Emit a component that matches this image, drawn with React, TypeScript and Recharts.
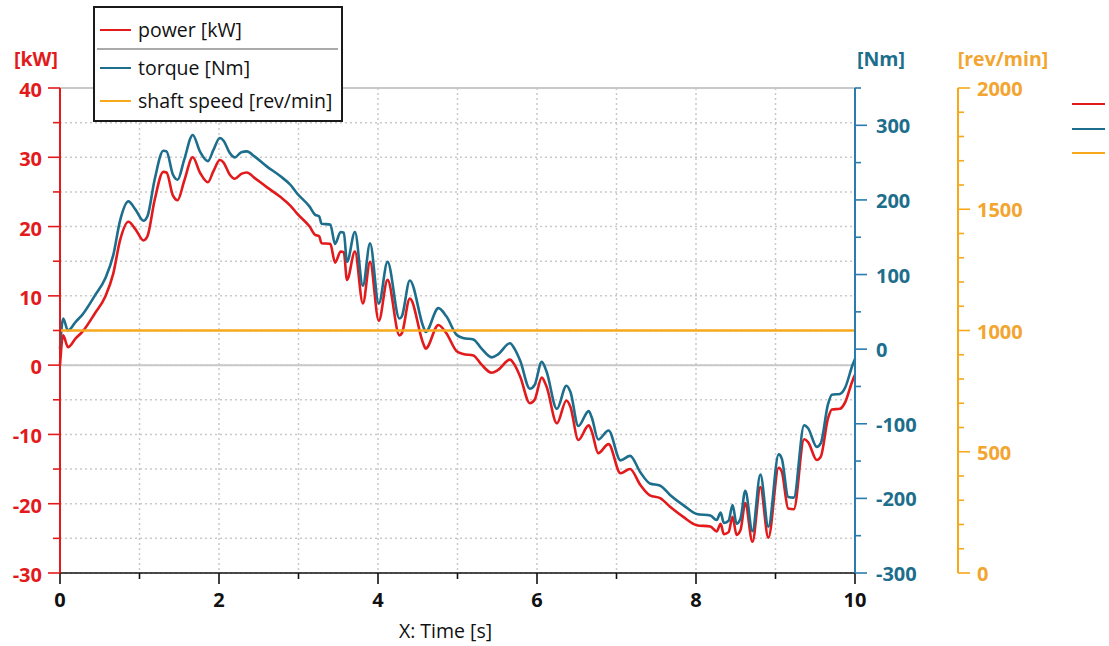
import React from 'react';
import {
  LineChart, Line, XAxis, YAxis, CartesianGrid, ReferenceLine, Legend,
} from 'recharts';

// ---- data ----
const TIME = [
  0, 0.04, 0.1, 0.2, 0.28, 0.44, 0.57, 0.67, 0.755, 0.86,
  0.95, 1.05, 1.1, 1.19, 1.3, 1.34, 1.42, 1.48, 1.56, 1.67,
  1.76, 1.86, 1.93, 2.01, 2.06, 2.13, 2.2, 2.28, 2.35, 2.45,
  2.6, 2.77, 2.9, 2.98, 3.14, 3.21, 3.26, 3.29, 3.4, 3.46,
  3.53, 3.57, 3.61, 3.71, 3.81, 3.9, 4.01, 4.12, 4.27, 4.3,
  4.4, 4.57, 4.6, 4.76, 4.86, 4.99, 5.07, 5.2, 5.3, 5.43,
  5.51, 5.66, 5.72, 5.79, 5.91, 5.97, 6.06, 6.12, 6.25, 6.37,
  6.42, 6.52, 6.65, 6.69, 6.77, 6.9, 7.05, 7.17, 7.3, 7.42,
  7.55, 7.67, 7.84, 8.01, 8.18, 8.26, 8.31, 8.35, 8.41, 8.46,
  8.51, 8.56, 8.62, 8.71, 8.81, 8.91, 9.04, 9.08, 9.16, 9.23,
  9.36, 9.41, 9.52, 9.57, 9.66, 9.71, 9.81, 9.87, 9.97, 10,
];

const POWER_KW = [
  0, 4.3, 2.6, 3.9, 4.8, 7.5, 9.9, 13.2, 18.0, 20.7,
  19.6, 18.0, 18.6, 23.8, 27.9, 27.8, 24.5, 23.8, 26.5, 30.0,
  27.8, 26.4, 28.0, 29.6, 29.2, 27.6, 26.9, 27.6, 27.8, 27.0,
  25.7, 24.3, 23.0, 21.9, 20.0, 18.8, 18.6, 17.6, 17.5, 14.8,
  16.4, 16.3, 12.3, 16.4, 8.9, 14.9, 6.4, 12.3, 4.3, 4.6,
  9.6, 3.1, 2.4, 5.8, 4.6, 2.0, 1.6, 1.4, 0.1, -1.1,
  -0.7, 0.8, 0.0, -1.7, -5.5, -5.0, -1.8, -3.1, -8.4, -5.1,
  -6.0, -10.8, -8.7, -9.6, -12.7, -11.4, -15.6, -15.0, -17.3, -18.8,
  -19.2, -20.4, -21.9, -23.1, -23.3, -24.0, -22.9, -24.4, -24.1, -21.9,
  -24.5, -23.8, -19.9, -25.5, -17.6, -24.9, -14.8, -15.4, -20.7, -20.8,
  -10.7, -11.1, -13.7, -13.2, -7.7, -6.4, -6.3, -5.5, -2.2, -1.4,
];

const TORQUE_NM = [
  0, 41, 25, 37, 46, 72, 95, 126, 172, 198,
  187, 172, 178, 227, 266, 265, 234, 227, 253, 287,
  265, 252, 267, 283, 279, 264, 257, 264, 265, 258,
  245, 232, 220, 209, 191, 180, 178, 168, 167, 141,
  157, 156, 117, 157, 85, 142, 61, 117, 41, 44,
  92, 30, 23, 55, 44, 19, 15, 13, 1, -11,
  -7, 8, 0, -16, -53, -48, -17, -30, -80, -49,
  -57, -103, -83, -92, -121, -109, -149, -143, -165, -180,
  -183, -195, -209, -221, -223, -229, -219, -233, -230, -209,
  -234, -227, -190, -244, -168, -238, -141, -147, -198, -199,
  -102, -106, -131, -126, -74, -61, -60, -53, -21, -13,
];

const SPEED_TIME = [0, 10];
const SPEED_RPM = [1000, 1000];

const X_TICKS = [0, 1, 2, 3, 4, 5, 6, 7, 8, 9, 10];
const KW_TICKS = [-30, -25, -20, -15, -10, -5, 0, 5, 10, 15, 20, 25, 30, 35, 40];
const NM_TICKS = [-300, -250, -200, -150, -100, -50, 0, 50, 100, 150, 200, 250, 300, 350];
const RPM_TICKS = [0, 100, 200, 300, 400, 500, 600, 700, 800, 900, 1000, 1100, 1200, 1300, 1400, 1500, 1600, 1700, 1800, 1900, 2000];

const SERIES_NAMES = ['power [kW]', 'torque [Nm]', 'shaft speed [rev/min]'];

// ---- styles ----
const RED = '#e31a1c';
const TEAL = '#1d6e8c';
const TEAL_AXIS = '#2a7bb0';
const ORANGE = '#f7a81b';
const ORANGE_TXT = '#f2a530';
const SERIES_COLORS = [RED, TEAL, ORANGE];
const FONT = '"Open Sans", "DejaVu Sans", sans-serif';

const mainData = TIME.map((t, i) => ({ t, power: POWER_KW[i], torque: TORQUE_NM[i] }));
const speedData = SPEED_TIME.map((t, i) => ({ t, speed: SPEED_RPM[i] }));

const LeftTick = (props: any) => {
  const { x, y, payload } = props;
  const v = payload.value;
  const major = v % 10 === 0;
  return (
    <g>
      <line x1={x - (major ? 12 : 7)} x2={x} y1={y} y2={y} stroke={RED} strokeWidth={1.6} />
      {major && (
        <text x={x - 18} y={y + 9} textAnchor="end" fill={RED} fontFamily={FONT} fontWeight={700} fontSize={20}>
          {v}
        </text>
      )}
    </g>
  );
};

const TorqueTick = (props: any) => {
  const { x, y, payload } = props;
  const v = payload.value;
  const major = v % 100 === 0;
  return (
    <g>
      <line x1={x} x2={x + (major ? 12 : 6)} y1={y} y2={y} stroke={TEAL_AXIS} strokeWidth={1.6} />
      {major && (
        <text x={x + 21} y={y + 8} textAnchor="start" fill={TEAL} fontFamily={FONT} fontWeight={700} fontSize={20}>
          {v}
        </text>
      )}
    </g>
  );
};

const SpeedTick = (props: any) => {
  const { x, y, payload } = props;
  const v = payload.value;
  const major = v % 500 === 0;
  return (
    <g>
      <line x1={x} x2={x + (major ? 12 : 6)} y1={y} y2={y} stroke={ORANGE} strokeWidth={1.6} />
      {major && (
        <text x={x + 19} y={y + 8} textAnchor="start" fill={ORANGE_TXT} fontFamily={FONT} fontWeight={700} fontSize={20}>
          {v}
        </text>
      )}
    </g>
  );
};

const BottomTick = (props: any) => {
  const { x, y, payload } = props;
  const v = payload.value;
  const major = v % 2 === 0;
  return (
    <g>
      <line x1={x} x2={x} y1={y} y2={y + (major ? 11 : 6)} stroke="#111" strokeWidth={1.6} />
      {major && (
        <text x={x} y={y + 34} textAnchor="middle" fill="#111" fontFamily={FONT} fontWeight={700} fontSize={20}>
          {v}
        </text>
      )}
    </g>
  );
};

const unitLabel = (text: string, color: string, dx: number) => (props: any) => {
  const vb = props.viewBox || {};
  return (
    <text x={vb.x + dx} y={vb.y - 22} textAnchor="middle" fill={color} fontFamily={FONT} fontWeight={700} fontSize={19.5}>
      {text}
    </text>
  );
};

const XLabel = (props: any) => {
  const vb = props.viewBox || {};
  return (
    <text x={vb.x + vb.width / 2 - 12} y={vb.y + 65} textAnchor="middle" fill="#111" fontFamily={FONT} fontSize={19.5}>
      X: Time [s]
    </text>
  );
};

const LegendContent = (props: any) => {
  const payload: any[] = props.payload || [];
  const colorFor = (name: string, i: number) => {
    const p = payload.find((e) => e.value === name);
    return (p && p.color) || SERIES_COLORS[i];
  };
  const rows = [
    { top: 29, name: SERIES_NAMES[0] },
    { top: 67, name: SERIES_NAMES[1] },
    { top: 100, name: SERIES_NAMES[2] },
  ];
  return (
    <div style={{ position: 'relative', width: 1109, height: 0 }}>
      <div
        style={{
          position: 'absolute', left: 93, top: 6, width: 246, height: 112,
          border: '2px solid #1a1a1a', background: '#fff', boxSizing: 'content-box',
        }}
      >
        {rows.map((r, i) => (
          <React.Fragment key={i}>
            <div style={{ position: 'absolute', left: 5, top: r.top - 8, width: 31, height: 0, borderTop: `2.5px solid ${colorFor(r.name, i)}` }} />
            <div style={{ position: 'absolute', left: 43, top: r.top - 20, fontFamily: FONT, fontSize: 19.5, lineHeight: '26px', color: '#111', whiteSpace: 'nowrap' }}>
              {r.name}
            </div>
          </React.Fragment>
        ))}
        <div style={{ position: 'absolute', left: 2, top: 40, width: 241, height: 0, borderTop: '2px solid #aaa' }} />
      </div>
      {[104, 129, 153].map((yy, i) => (
        <div key={i} style={{ position: 'absolute', left: 1072, top: yy - 1, width: 33, height: 0, borderTop: `2.5px solid ${colorFor(rows[i].name, i)}` }} />
      ))}
    </div>
  );
};

export default function App() {
  return (
    <div style={{ position: 'absolute', left: 0, top: 0, width: 1109, height: 646, background: '#fff' }}>
      <LineChart
        width={1109}
        height={646}
        data={mainData}
        margin={{ top: 88, right: 71, bottom: 33, left: 0 }}
      >
        <CartesianGrid
          yAxisId="kw"
          stroke="#c9c9c9"
          strokeWidth={1.5}
          strokeDasharray="2 3"
        />
        <XAxis
          dataKey="t"
          type="number"
          domain={[0, 10]}
          ticks={X_TICKS}
          interval={0}
          height={40}
          tickSize={0}
          tickMargin={0}
          tickLine={false}
          axisLine={{ stroke: '#111', strokeWidth: 1.6 }}
          tick={<BottomTick />}
          allowDecimals
          label={<XLabel />}
        />
        <YAxis
          yAxisId="kw"
          orientation="left"
          type="number"
          domain={[-30, 40]}
          ticks={KW_TICKS}
          interval={0}
          width={60}
          tickSize={0}
          tickMargin={0}
          tickLine={false}
          axisLine={{ stroke: RED, strokeWidth: 2 }}
          tick={<LeftTick />}
          label={unitLabel('[kW]', RED, 36)}
        />
        <YAxis
          yAxisId="nm"
          orientation="right"
          type="number"
          domain={[-300, 350]}
          ticks={NM_TICKS}
          interval={0}
          width={103}
          tickSize={0}
          tickMargin={0}
          tickLine={false}
          axisLine={{ stroke: TEAL_AXIS, strokeWidth: 2 }}
          tick={<TorqueTick />}
          label={unitLabel('[Nm]', TEAL, 26)}
        />
        <YAxis
          yAxisId="rpm"
          orientation="right"
          type="number"
          domain={[0, 2000]}
          ticks={RPM_TICKS}
          interval={0}
          width={80}
          tickSize={0}
          tickMargin={0}
          tickLine={false}
          axisLine={{ stroke: ORANGE, strokeWidth: 2 }}
          tick={<SpeedTick />}
          label={unitLabel('[rev/min]', ORANGE_TXT, 45)}
        />
        <ReferenceLine yAxisId="kw" y={40} stroke="#c8c8c8" strokeWidth={2} />
        <ReferenceLine yAxisId="kw" y={0} stroke="#c8c8c8" strokeWidth={2} />
        <Legend
          layout="horizontal"
          verticalAlign="middle"
          align="center"
          content={<LegendContent />}
          wrapperStyle={{ position: 'absolute', left: 0, top: 0, width: 1109, height: 0 }}
        />
        <Line
          yAxisId="kw"
          name={SERIES_NAMES[0]}
          dataKey="power"
          type="monotone"
          stroke={RED}
          strokeWidth={2.6}
          dot={false}
          activeDot={false}
          isAnimationActive={false}
        />
        <Line
          yAxisId="nm"
          name={SERIES_NAMES[1]}
          dataKey="torque"
          type="monotone"
          stroke={TEAL}
          strokeWidth={2.6}
          dot={false}
          activeDot={false}
          isAnimationActive={false}
        />
        <Line
          yAxisId="rpm"
          name={SERIES_NAMES[2]}
          data={speedData}
          dataKey="speed"
          type="linear"
          stroke={ORANGE}
          strokeWidth={2.6}
          dot={false}
          activeDot={false}
          isAnimationActive={false}
        />
      </LineChart>
    </div>
  );
}
